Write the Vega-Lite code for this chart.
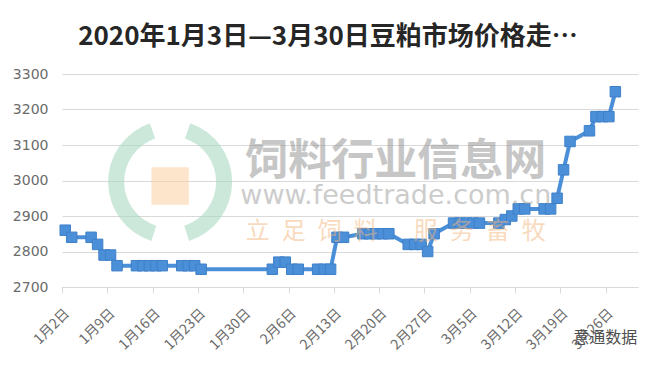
{
  "$schema": "https://vega.github.io/schema/vega-lite/v6.json",
  "autosize": "none",
  "width": 576,
  "height": 213,
  "padding": {"left": 62, "top": 74, "right": 22, "bottom": 88},
  "background": "#ffffff",
  "title": {
    "text": "2020年1月3日—3月30日豆粕市场价格走…",
    "font": "Noto Sans CJK SC",
    "fontSize": 26,
    "fontWeight": "bold",
    "color": "#262626",
    "anchor": "middle",
    "frame": "group",
    "dx": -22,
    "offset": 17
  },
  "config": {
    "view": {"stroke": null},
    "axis": {"labelColor": "#6b6b6b", "gridColor": "#d9d9d9", "domainColor": "#d9d9d9", "tickColor": "#d9d9d9"}
  },
  "data": {
    "values": [
      {"date": "2020/01/02", "price": 2860},
      {"date": "2020/01/03", "price": 2840},
      {"date": "2020/01/06", "price": 2840},
      {"date": "2020/01/07", "price": 2820},
      {"date": "2020/01/08", "price": 2790},
      {"date": "2020/01/09", "price": 2790},
      {"date": "2020/01/10", "price": 2760},
      {"date": "2020/01/13", "price": 2760},
      {"date": "2020/01/14", "price": 2760},
      {"date": "2020/01/15", "price": 2760},
      {"date": "2020/01/16", "price": 2760},
      {"date": "2020/01/17", "price": 2760},
      {"date": "2020/01/20", "price": 2760},
      {"date": "2020/01/21", "price": 2760},
      {"date": "2020/01/22", "price": 2760},
      {"date": "2020/01/23", "price": 2750},
      {"date": "2020/02/03", "price": 2750},
      {"date": "2020/02/04", "price": 2770},
      {"date": "2020/02/05", "price": 2770},
      {"date": "2020/02/06", "price": 2750},
      {"date": "2020/02/07", "price": 2750},
      {"date": "2020/02/10", "price": 2750},
      {"date": "2020/02/11", "price": 2750},
      {"date": "2020/02/12", "price": 2750},
      {"date": "2020/02/13", "price": 2840},
      {"date": "2020/02/14", "price": 2840},
      {"date": "2020/02/17", "price": 2850},
      {"date": "2020/02/18", "price": 2850},
      {"date": "2020/02/19", "price": 2850},
      {"date": "2020/02/20", "price": 2850},
      {"date": "2020/02/21", "price": 2850},
      {"date": "2020/02/24", "price": 2820},
      {"date": "2020/02/25", "price": 2820},
      {"date": "2020/02/26", "price": 2820},
      {"date": "2020/02/27", "price": 2800},
      {"date": "2020/02/28", "price": 2850},
      {"date": "2020/03/02", "price": 2880},
      {"date": "2020/03/03", "price": 2880},
      {"date": "2020/03/04", "price": 2880},
      {"date": "2020/03/05", "price": 2880},
      {"date": "2020/03/06", "price": 2880},
      {"date": "2020/03/09", "price": 2880},
      {"date": "2020/03/10", "price": 2890},
      {"date": "2020/03/11", "price": 2900},
      {"date": "2020/03/12", "price": 2920},
      {"date": "2020/03/13", "price": 2920},
      {"date": "2020/03/16", "price": 2920},
      {"date": "2020/03/17", "price": 2920},
      {"date": "2020/03/18", "price": 2950},
      {"date": "2020/03/19", "price": 3030},
      {"date": "2020/03/20", "price": 3110},
      {"date": "2020/03/23", "price": 3140},
      {"date": "2020/03/24", "price": 3180},
      {"date": "2020/03/25", "price": 3180},
      {"date": "2020/03/26", "price": 3180},
      {"date": "2020/03/27", "price": 3250}
    ]
  },
  "layer": [
    {
      "data": {"values": [{"day": "2020/01/18 17:00", "level": 2996}]},
      "layer": [
        {"mark": {"type": "arc", "theta": 3.45, "theta2": 5.95, "radius": 62, "radius2": 46, "color": "#a9d8c2", "opacity": 0.6}},
        {"mark": {"type": "arc", "theta": 0.33, "theta2": 2.83, "radius": 62, "radius2": 46, "color": "#a9d8c2", "opacity": 0.6}},
        {"mark": {"type": "point", "shape": "square", "size": 1400, "filled": true, "color": "#fbd3aa", "opacity": 0.6, "yOffset": 4}}
      ],
      "encoding": {
        "x": {"field": "day", "type": "temporal"},
        "y": {"field": "level", "type": "quantitative"}
      }
    },
    {
      "layer": [
        {
          "mark": {"type": "line", "color": "#4a8fd8", "strokeWidth": 4}
        },
        {
          "mark": {"type": "point", "shape": "square", "size": 110, "filled": true, "color": "#4a8fd8", "opacity": 1, "stroke": "#3f80c8", "strokeWidth": 1}
        }
      ],
      "encoding": {
        "x": {
          "field": "date",
          "timeUnit": "yearmonthdate",
          "type": "temporal",
          "bandPosition": 0.5,
          "scale": {"domain": [{"year": 2020, "month": 1, "date": 2}, {"year": 2020, "month": 3, "date": 31}]},
          "axis": {
            "title": null,
            "values": [
              {"year": 2020, "month": 1, "date": 2},
              {"year": 2020, "month": 1, "date": 9},
              {"year": 2020, "month": 1, "date": 16},
              {"year": 2020, "month": 1, "date": 23},
              {"year": 2020, "month": 1, "date": 30},
              {"year": 2020, "month": 2, "date": 6},
              {"year": 2020, "month": 2, "date": 13},
              {"year": 2020, "month": 2, "date": 20},
              {"year": 2020, "month": 2, "date": 27},
              {"year": 2020, "month": 3, "date": 5},
              {"year": 2020, "month": 3, "date": 12},
              {"year": 2020, "month": 3, "date": 19},
              {"year": 2020, "month": 3, "date": 26}
            ],
            "tickCount": 20,
            "labelExpr": "(month(datum.value) + 1) + '月' + date(datum.value) + '日'",
            "labelAngle": -45,
            "labelFont": "Noto Sans CJK SC",
            "labelFontSize": 14,
            "labelPadding": 13,
            "labelOverlap": false,
            "tickSize": 6,
            "grid": false
          }
        },
        "y": {
          "field": "price",
          "type": "quantitative",
          "scale": {"domain": [2700, 3300], "nice": false, "zero": false},
          "axis": {
            "title": null,
            "values": [2700, 2800, 2900, 3000, 3100, 3200, 3300],
            "tickCount": 10,
            "format": "d",
            "labelOverlap": false,
            "domain": false,
            "ticks": false,
            "grid": true,
            "labelFont": "DejaVu Sans",
            "labelFontSize": 14,
            "labelPadding": 14
          }
        }
      }
    },
    {
      "data": {
        "values": [
          {"label": "饲料行业信息网", "day": "2020/02/22 14:00", "level": 3052, "kind": "brand"},
          {"label": "www.feedtrade.com.cn", "day": "2020/02/22 14:00", "level": 2956, "kind": "site"},
          {"label": "立\u2002足\u2002饲\u2002料\u3000\u2002服\u2002务\u2002畜\u2002牧", "day": "2020/02/22 14:00", "level": 2855, "kind": "motto"}
        ]
      },
      "layer": [
        {
          "transform": [{"filter": "datum.kind === 'brand'"}],
          "mark": {"type": "text", "font": "Noto Sans CJK SC", "fontSize": 43, "fontWeight": "bold", "color": "#8f8f8f", "opacity": 0.5, "align": "center", "baseline": "middle"}
        },
        {
          "transform": [{"filter": "datum.kind === 'site'"}],
          "mark": {"type": "text", "font": "DejaVu Sans", "fontSize": 27, "color": "#9a9a9a", "opacity": 0.5, "align": "center", "baseline": "middle"}
        },
        {
          "transform": [{"filter": "datum.kind === 'motto'"}],
          "mark": {"type": "text", "font": "Noto Sans CJK SC", "fontSize": 24, "color": "#f5b77e", "opacity": 0.5, "align": "center", "baseline": "middle"}
        }
      ],
      "encoding": {
        "x": {"field": "day", "type": "temporal"},
        "y": {"field": "level", "type": "quantitative"},
        "text": {"field": "label"}
      }
    },
    {
      "data": {"values": [{"label": "意通数据", "day": "2020/03/21", "level": 2557}]},
      "mark": {"type": "text", "font": "Noto Sans CJK SC", "fontSize": 16, "color": "#4d4d4d", "align": "left", "baseline": "middle"},
      "encoding": {
        "x": {"field": "day", "type": "temporal"},
        "y": {"field": "level", "type": "quantitative"},
        "text": {"field": "label"}
      }
    }
  ]
}
